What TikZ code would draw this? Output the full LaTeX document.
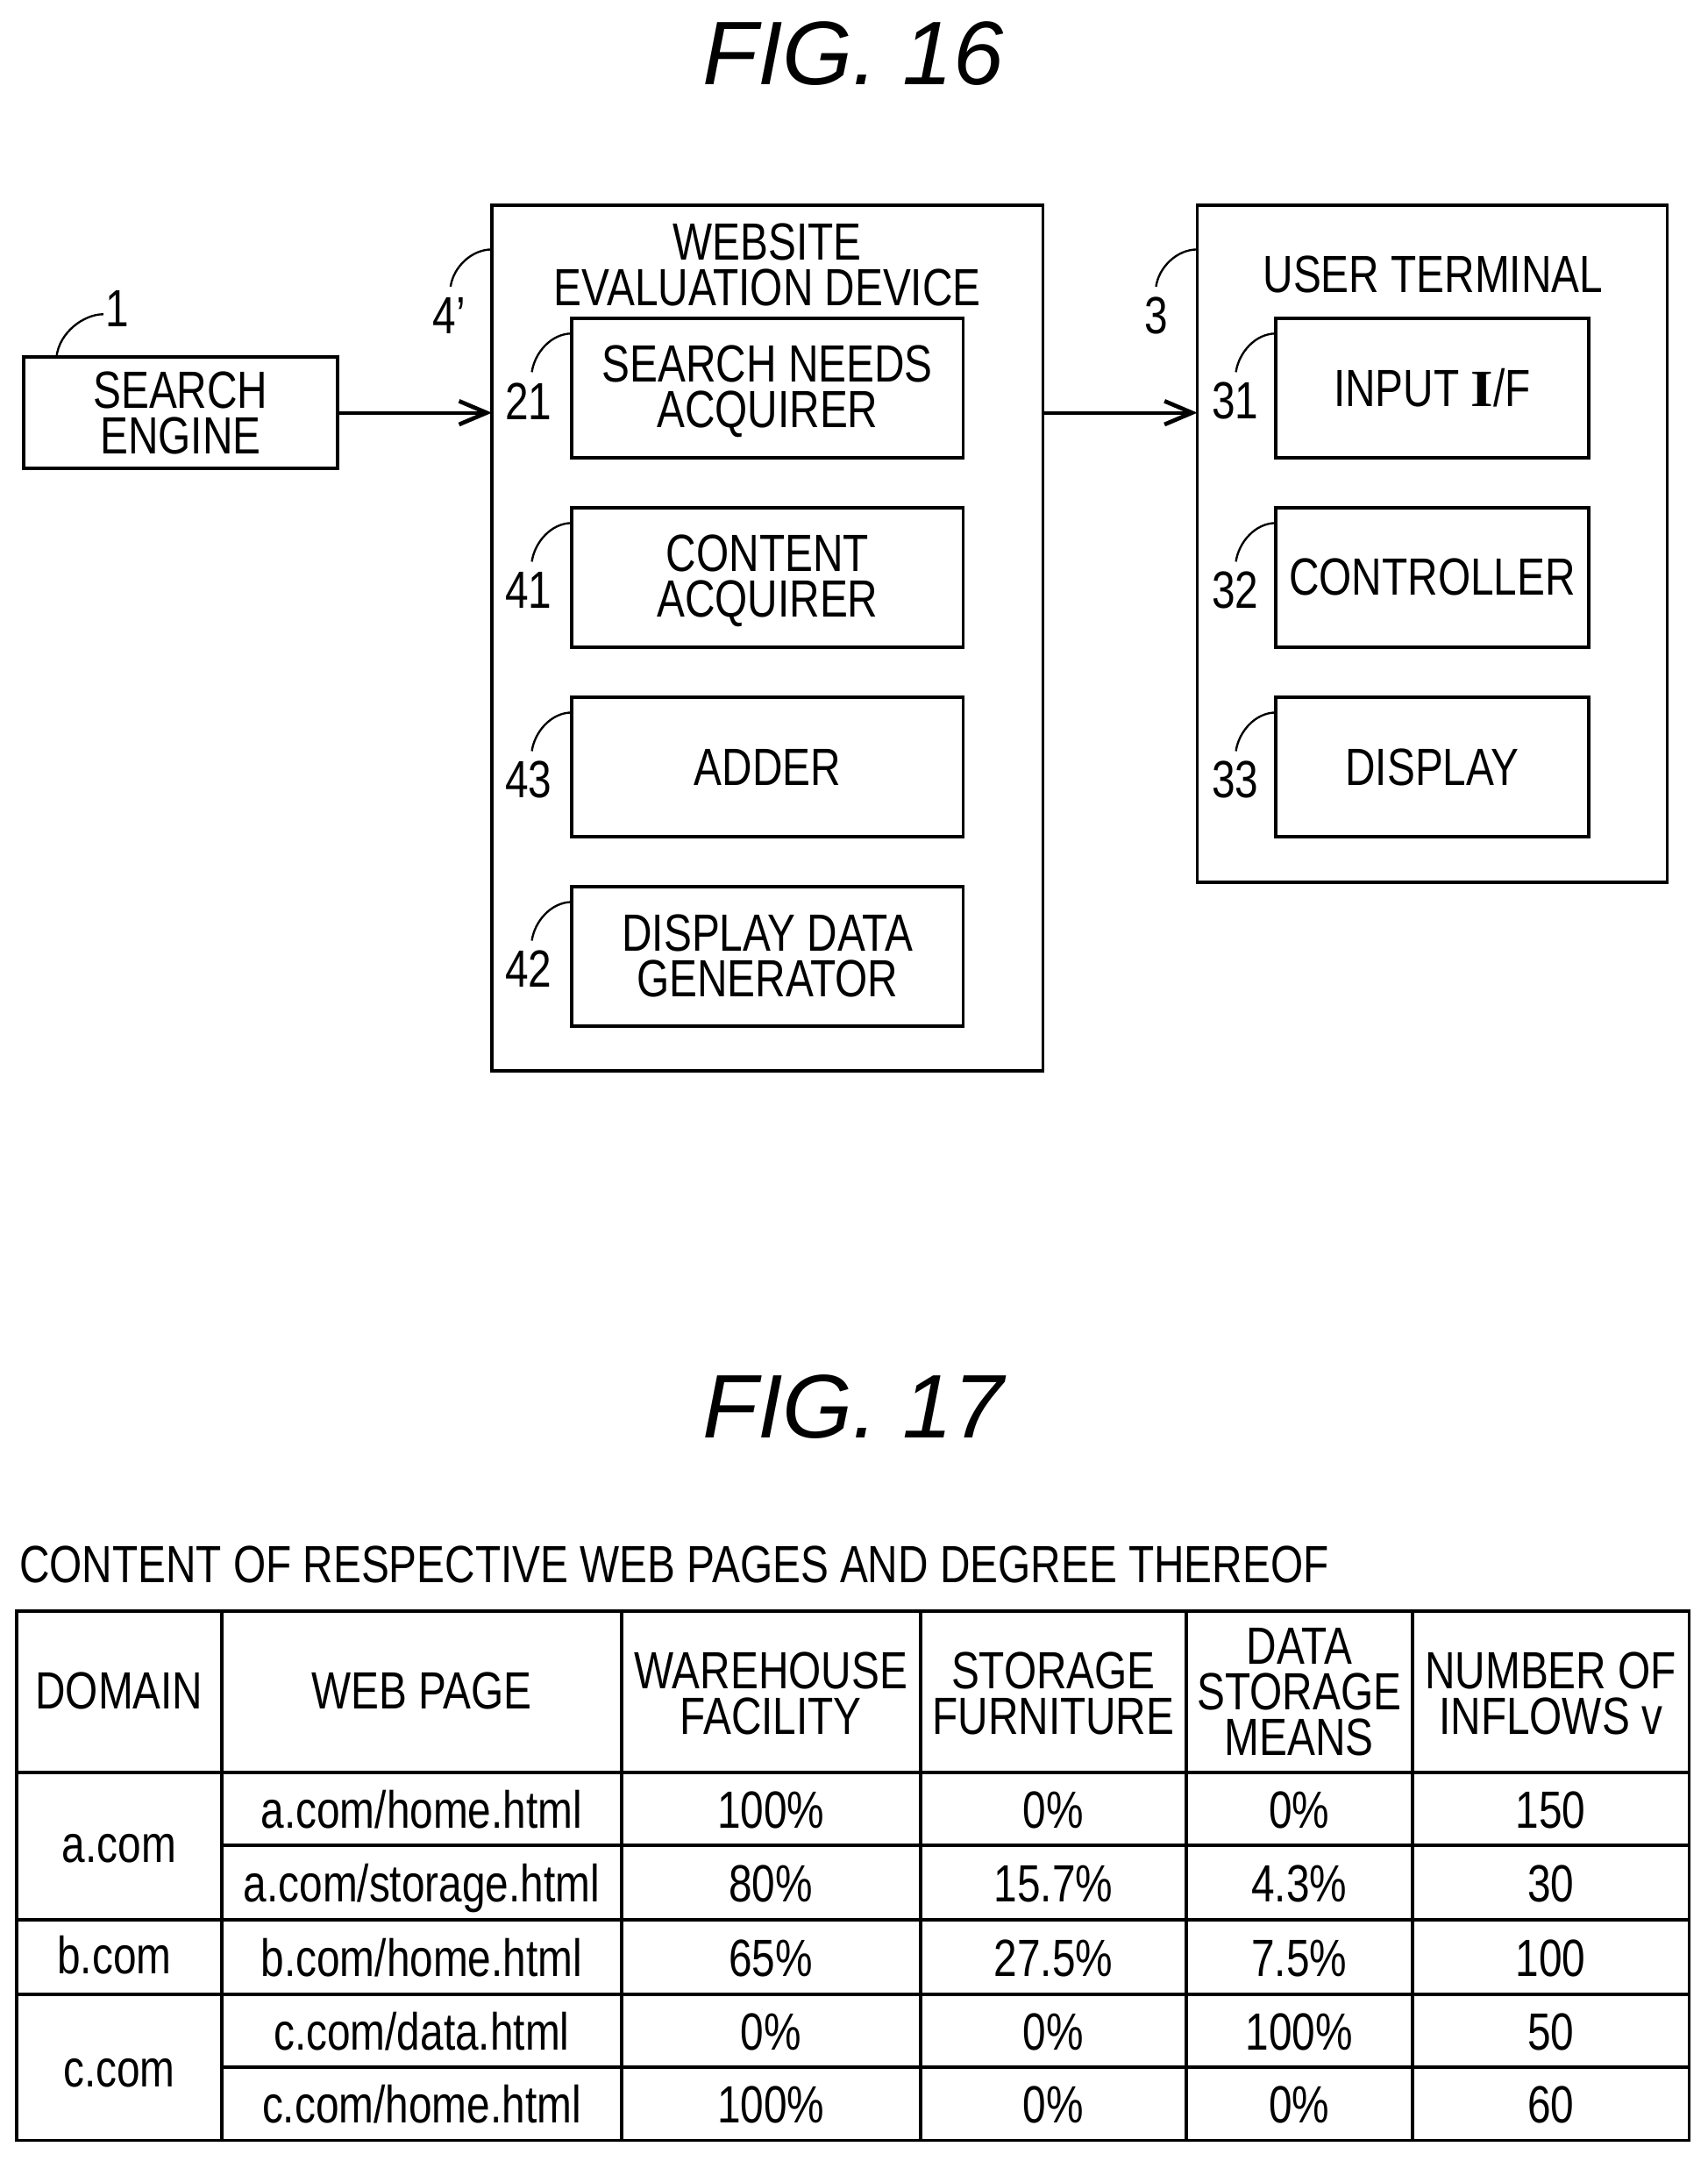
\documentclass[tikz,border=0pt]{standalone}
\usepackage{fontspec}
\usetikzlibrary{arrows.meta}
\setmainfont{Liberation Sans}
\newfontfamily\condf[FakeStretch=0.8]{Liberation Sans}
\newfontfamily\titlef{Liberation Sans}
\newfontfamily\serifI[FakeStretch=1.1]{Liberation Serif}
\tikzset{
  base/.style={inner sep=0pt,outer sep=0pt,align=center,font=\condf\fontsize{38}{33}\selectfont},
  bx/.style 2 args={base,draw,line width=2.4pt,minimum width=#1 pt,minimum height=#2 pt},
  cellb/.style 2 args={bx={#1}{#2},text height=28pt,text depth=0pt},
  num/.style={base},
  figtitle/.style={inner sep=0pt,outer sep=0pt,font=\titlef\itshape\fontsize{65.5}{70}\selectfont},
  lead/.style={line width=1.5pt},
  flow/.style={line width=2.4pt,-{Straight Barb[length=20pt,width=17pt,line width=3pt]}}
}
\begin{document}
\begin{tikzpicture}[x=1pt,y=-1pt]
\path[fill=white,use as bounding box] (0,0) rectangle (1239.6,1568);
\node[figtitle] (t16) at (619,39) {FIG. 16};
\node[figtitle] (t17) at (619,1021) {FIG. 17};
% FIG 16
\node[bx={228}{81}] (se) at (131,299.5) {SEARCH\\ENGINE};
\node[bx={400}{628}] (wed) at (557,463) {};
\node[base] (wedt) at (557,192) {WEBSITE\\EVALUATION DEVICE};
\node[bx={284}{101}] (sna) at (557,281.5) {};
\node[base] (snat) at (557,284) {SEARCH NEEDS\\ACQUIRER};
\node[bx={284}{101}] (ca) at (557,419) {};
\node[base] (cat) at (557,421.5) {CONTENT\\ACQUIRER};
\node[bx={284}{101}] (add) at (557,556.5) {ADDER};
\node[bx={284}{101}] (ddg) at (557,694) {};
\node[base] (ddgt) at (557,693.5) {DISPLAY DATA\\GENERATOR};
\node[bx={341}{491}] (ut) at (1039.5,394.5) {};
\node[base] (utt) at (1040,199) {USER TERMINAL};
\node[bx={227}{101}] (inp) at (1039.5,281.5) {INPUT {\serifI\bfseries I}/F};
\node[bx={227}{101}] (ctl) at (1039.5,419) {CONTROLLER};
\node[bx={227}{101}] (dsp) at (1039.5,556.5) {DISPLAY};
\draw[flow] (se.east) -- (se.east -| wed.west);
\draw[flow] (se.east -| wed.east) -- (se.east -| ut.west);
% reference labels
\node[num] (n1) at (85,224) {1};
\node[num] (n4) at (326,229) {4’};
\node[num] (n3) at (839,229) {3};
\node[num] (n21) at (383.5,291) {21};
\node[num] (n41) at (383.5,428) {41};
\node[num] (n43) at (383.5,566) {43};
\node[num] (n42) at (383.5,703) {42};
\node[num] (n31) at (896.5,291) {31};
\node[num] (n32) at (896.5,428) {32};
\node[num] (n33) at (896.5,566) {33};
\draw[lead] (se.north west) ++(24,0) .. controls +(2,-18) and +(-14,0) .. +(34,-31);
\draw[lead] (wed.north west) ++(0,32) .. controls +(-15,0) and +(2,-14) .. +(-30,27);
\draw[lead] (ut.north west) ++(0,32) .. controls +(-15,0) and +(2,-14) .. +(-30,27);
\draw[lead] (sna.north west) ++(0,11) .. controls +(-15,0) and +(2,-14) .. +(-29,28);
\draw[lead] (ca.north west) ++(0,11) .. controls +(-15,0) and +(2,-14) .. +(-29,28);
\draw[lead] (add.north west) ++(0,11) .. controls +(-15,0) and +(2,-14) .. +(-29,28);
\draw[lead] (ddg.north west) ++(0,11) .. controls +(-15,0) and +(2,-14) .. +(-29,28);
\draw[lead] (inp.north west) ++(0,11) .. controls +(-15,0) and +(2,-14) .. +(-29,28);
\draw[lead] (ctl.north west) ++(0,11) .. controls +(-15,0) and +(2,-14) .. +(-29,28);
\draw[lead] (dsp.north west) ++(0,11) .. controls +(-15,0) and +(2,-14) .. +(-29,28);
% FIG 17
\node[base,anchor=west,text height=28pt,text depth=0pt] (cap) at (14,1134) {CONTENT OF RESPECTIVE WEB PAGES AND DEGREE THEREOF};
% header row
\node[bx={149}{117},text height=28pt,text depth=3pt] (h1) at (86.5,1227.5) {DOMAIN};
\node[bx={290}{117},text height=28pt,text depth=3pt] (h2) at (306,1227.5) {WEB PAGE};
\node[bx={217}{117}] (h3) at (559.5,1227.5) {};
\node[base] (h3t) at (559.5,1228.5) {WAREHOUSE\\FACILITY};
\node[bx={193}{117}] (h4) at (764.5,1227.5) {};
\node[base] (h4t) at (764.5,1228.5) {STORAGE\\FURNITURE};
\node[bx={164}{117}] (h5) at (943,1227.5) {DATA\\STORAGE\\MEANS};
\node[bx={201}{117}] (h6) at (1125.5,1227.5) {};
\node[base] (h6t) at (1125.5,1228.5) {NUMBER OF\\INFLOWS v};
% domains
\node[cellb={149}{107}] (da) at (86.5,1339.5) {};
\node[base,text height=28pt,text depth=0pt] (dat) at (86.5,1337.5) {a.com};
\node[cellb={149}{54}] (db) at (86.5,1420) {};
\node[base,text height=28pt,text depth=0pt] (dbt) at (83,1418) {b.com};
\node[cellb={149}{106}] (dc) at (86.5,1500) {c.com};
% row 1
\node[cellb={290}{53}] (p1) at (306,1312.5) {a.com/home.html};
\node[cellb={217}{53}] (a1) at (559.5,1312.5) {100\%};
\node[cellb={193}{53}] (b1) at (764.5,1312.5) {0\%};
\node[cellb={164}{53}] (c1) at (943,1312.5) {0\%};
\node[cellb={201}{53}] (v1) at (1125.5,1312.5) {150};
% row 2
\node[cellb={290}{54}] (p2) at (306,1366) {a.com/storage.html};
\node[cellb={217}{54}] (a2) at (559.5,1366) {80\%};
\node[cellb={193}{54}] (b2) at (764.5,1366) {15.7\%};
\node[cellb={164}{54}] (c2) at (943,1366) {4.3\%};
\node[cellb={201}{54}] (v2) at (1125.5,1366) {30};
% row 3
\node[cellb={290}{54}] (p3) at (306,1420) {b.com/home.html};
\node[cellb={217}{54}] (a3) at (559.5,1420) {65\%};
\node[cellb={193}{54}] (b3) at (764.5,1420) {27.5\%};
\node[cellb={164}{54}] (c3) at (943,1420) {7.5\%};
\node[cellb={201}{54}] (v3) at (1125.5,1420) {100};
% row 4
\node[cellb={290}{53}] (p4) at (306,1473.5) {c.com/data.html};
\node[cellb={217}{53}] (a4) at (559.5,1473.5) {0\%};
\node[cellb={193}{53}] (b4) at (764.5,1473.5) {0\%};
\node[cellb={164}{53}] (c4) at (943,1473.5) {100\%};
\node[cellb={201}{53}] (v4) at (1125.5,1473.5) {50};
% row 5
\node[cellb={290}{53}] (p5) at (306,1526.5) {c.com/home.html};
\node[cellb={217}{53}] (a5) at (559.5,1526.5) {100\%};
\node[cellb={193}{53}] (b5) at (764.5,1526.5) {0\%};
\node[cellb={164}{53}] (c5) at (943,1526.5) {0\%};
\node[cellb={201}{53}] (v5) at (1125.5,1526.5) {60};
\end{tikzpicture}
\end{document}
